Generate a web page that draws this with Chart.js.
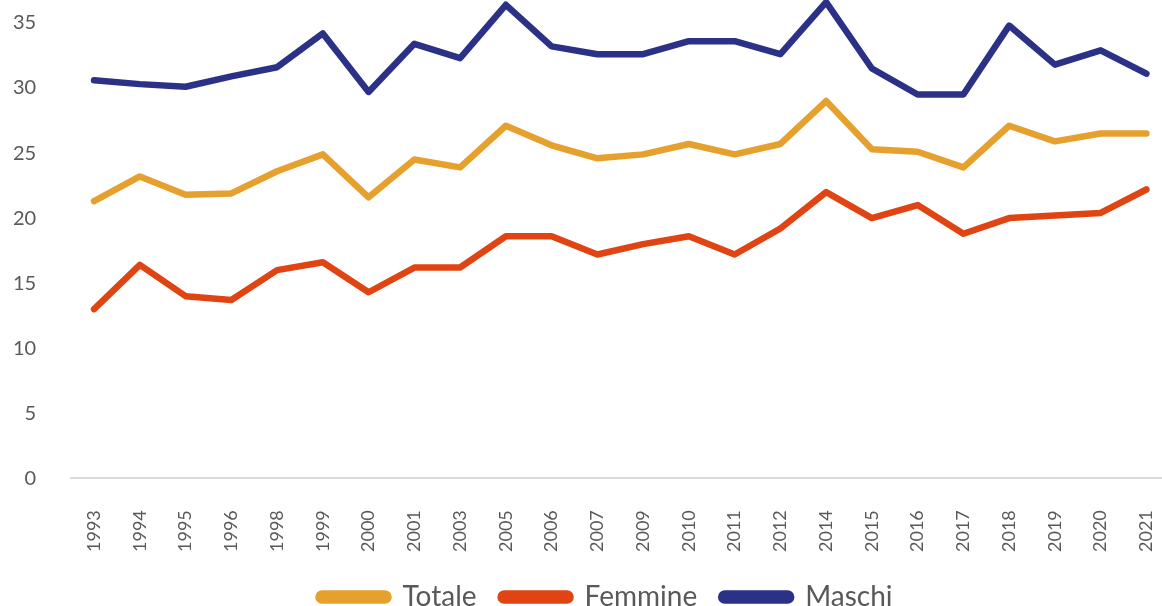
<!DOCTYPE html>
<html>
<head>
<meta charset="utf-8">
<script src="https://cdn.jsdelivr.net/npm/chart.js@4/dist/chart.umd.min.js"></script>
<style>
  html, body { margin:0; padding:0; background:#fff; overflow:hidden; }
  #wrap { width:1170px; height:606px; position:relative; }
</style>
</head>
<body>
<div id="wrap"><canvas id="chart"></canvas></div>
<script>
// ─── Data ────────────────────────────────────────────────────────────────────
const years = ['1993','1994','1995','1996','1998','1999','2000','2001','2003','2005',
               '2006','2007','2009','2010','2011','2012','2014','2015','2016','2017',
               '2018','2019','2020','2021'];
const totale  = [21.3,23.2,21.8,21.9,23.6,24.9,21.6,24.5,23.9,27.1,
                 25.6,24.6,24.9,25.7,24.9,25.7,29.0,25.3,25.1,23.9,
                 27.1,25.9,26.5,26.5];
const femmine = [13.0,16.4,14.0,13.7,16.0,16.6,14.3,16.2,16.2,18.6,
                 18.6,17.2,18.0,18.6,17.2,19.2,22.0,20.0,21.0,18.8,
                 20.0,20.2,20.4,22.2];
const maschi  = [30.6,30.3,30.1,30.9,31.6,34.2,29.7,33.4,32.3,36.4,
                 33.2,32.6,32.6,33.6,33.6,32.6,36.6,31.5,29.5,29.5,
                 34.8,31.8,32.9,31.1];
const yTicks = [0,5,10,15,20,25,30,35];

const FONT = 'Lato, "Liberation Sans", sans-serif';
const TXT  = '#595959';

const line = (label, data, color) => ({
  label, data,
  borderColor: color, backgroundColor: color,
  borderWidth: 6.5, borderCapStyle: 'round', borderJoinStyle: 'round',
  pointRadius: 0, tension: 0, fill: false
});

// nudge the legend like in the original (Excel places it a bit lower/right)
const legendShift = {
  id: 'legendShift',
  afterLayout(chart) {
    const l = chart.legend; if (!l) return;
    l.left += 14; l.right += 14;
    l.top += 5; l.bottom += 5;
  }
};

// invisible tick marks give the label gap without padding the chart area
const hiddenTicks = len => ({ display: true, drawOnChartArea: false, drawTicks: true, tickLength: len, color: 'rgba(0,0,0,0)' });

new Chart(document.getElementById('chart'), {
  type: 'line',
  data: {
    labels: years,
    datasets: [
      line('Totale',  totale,  '#E5A02E'),
      line('Femmine', femmine, '#E04412'),
      line('Maschi',  maschi,  '#2B3187')
    ]
  },
  options: {
    responsive: true,
    maintainAspectRatio: false,
    animation: false,
    layout: { padding: { left: 13, right: 0, top: 0, bottom: 0 } },
    plugins: {
      tooltip: { enabled: false },
      legend: {
        position: 'bottom',
        maxHeight: 52,
        labels: {
          color: TXT, font: { family: FONT, size: 28 },
          boxWidth: 70, boxHeight: 7, useBorderRadius: true, borderRadius: 3.5,
          padding: 24
        }
      }
    },
    scales: {
      x: {
        offset: true,
        grid: hiddenTicks(30),
        border: { display: true, color: '#D9D9D9', width: 2 },
        ticks: { color: TXT, font: { family: FONT, size: 18 }, minRotation: 90, maxRotation: 90, padding: 2, autoSkip: false }
      },
      y: {
        min: 0, max: 36.76,
        grid: hiddenTicks(35),
        border: { display: false },
        afterBuildTicks: s => { s.ticks = yTicks.map(v => ({ value: v })); },
        ticks: { color: TXT, font: { family: FONT, size: 20, lineHeight: 0.01 }, padding: 0 }
      }
    }
  },
  plugins: [legendShift]
});
</script>
</body>
</html>
